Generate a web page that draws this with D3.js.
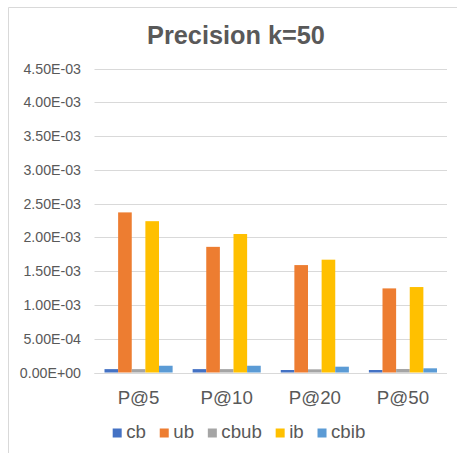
<!DOCTYPE html>
<html>
<head>
<meta charset="utf-8">
<script src="https://cdn.jsdelivr.net/npm/d3@7"></script>
<style>
  html, body { margin: 0; padding: 0; background: #fff; }
  svg { display: block; font-family: "Liberation Sans", Arial, sans-serif; }
</style>
</head>
<body>
<svg id="chart" width="457" height="453"></svg>
<script>
const categories = ["P@5", "P@10", "P@20", "P@50"];
const seriesNames = ["cb", "ub", "cbub", "ib", "cbib"];
const seriesColors = ["#4472C4", "#ED7D31", "#A5A5A5", "#FFC000", "#5B9BD5"];
const cbValues   = [0.000050, 0.000050, 0.000037, 0.000037];
const ubValues   = [0.002370, 0.001860, 0.001590, 0.001245];
const cbubValues = [0.000050, 0.000050, 0.000047, 0.000052];
const ibValues   = [0.002240, 0.002050, 0.001670, 0.001265];
const cbibValues = [0.000100, 0.000100, 0.000086, 0.000062];
const yTicks = [0, 0.0005, 0.001, 0.0015, 0.002, 0.0025, 0.003, 0.0035, 0.004, 0.0045];
const yTickLabels = ["0.00E+00", "5.00E-04", "1.00E-03", "1.50E-03", "2.00E-03", "2.50E-03", "3.00E-03", "3.50E-03", "4.00E-03", "4.50E-03"];
const titleText = "Precision k=50";

const seriesValues = [cbValues, ubValues, cbubValues, ibValues, cbibValues];
const table = categories.map((c, i) => ({
  category: c,
  values: seriesNames.map((s, j) => ({ series: s, value: seriesValues[j][i], color: seriesColors[j] }))
}));

const svg = d3.select("#chart");
const plot = { left: 94.5, right: 447, top: 68.5, bottom: 372.5 };

// Frame (chart area border, cropped at right and bottom)
svg.append("path")
  .attr("d", `M8.5,470 L8.5,7.5 L470,7.5`)
  .attr("fill", "none").attr("stroke", "#d9d9d9").attr("stroke-width", 1);

const x0 = d3.scaleBand().domain(categories).range([plot.left, plot.right]).paddingInner(0.227).paddingOuter(0.1135);
const x1 = d3.scaleBand().domain(seriesNames).range([0, x0.bandwidth()]).padding(0);
const y = d3.scaleLinear().domain([0, 0.0045]).range([plot.bottom, plot.top]);

// Gridlines
svg.append("g").selectAll("line").data(yTicks).join("line")
  .attr("x1", plot.left).attr("x2", plot.right)
  .attr("y1", d => Math.round(y(d)) + 0.5).attr("y2", d => Math.round(y(d)) + 0.5)
  .attr("stroke", "#d9d9d9").attr("stroke-width", 1);

// Y axis labels
const yAxis = d3.axisLeft(y).tickValues(yTicks).tickFormat((d, i) => yTickLabels[i]).tickSize(0).tickPadding(0);
const yg = svg.append("g").attr("transform", `translate(81,0)`).call(yAxis);
yg.select(".domain").remove();
yg.selectAll("text").attr("fill", "#595959").style("font-size", "14.2px").attr("font-family", null);

// Bars
const groups = svg.append("g").selectAll("g").data(table).join("g")
  .attr("transform", d => `translate(${x0(d.category)},0)`);
groups.selectAll("rect").data(d => d.values).join("rect")
  .attr("x", d => x1(d.series))
  .attr("width", x1.bandwidth())
  .attr("y", d => y(d.value))
  .attr("height", d => y(0) - y(d.value))
  .attr("fill", d => d.color);

// X axis baseline
svg.append("line")
  .attr("x1", plot.left).attr("x2", plot.right)
  .attr("y1", Math.round(y(0)) + 0.5).attr("y2", Math.round(y(0)) + 0.5)
  .attr("stroke", "#d9d9d9").attr("stroke-width", 1);

// X axis labels
const xAxis = d3.axisBottom(x0).tickSize(0).tickPadding(0);
const xg = svg.append("g").attr("transform", `translate(0,403.5)`).call(xAxis);
xg.select(".domain").remove();
xg.selectAll("text").attr("fill", "#595959").style("font-size", "18.7px").attr("dy", 0).attr("font-family", null);

// Title
svg.append("text").attr("x", 236).attr("y", 43.5).attr("text-anchor", "middle")
  .attr("fill", "#595959").style("font-size", "25.3px").style("font-weight", "bold")
  .text(titleText);

// Legend
const legend = svg.append("g");
const items = legend.selectAll("g").data(seriesNames).join("g");
items.append("rect").attr("width", 9).attr("height", 9).attr("y", 428.5)
  .attr("fill", (d, i) => seriesColors[i]);
items.append("text").attr("x", 13.5).attr("y", 437.8)
  .attr("fill", "#595959").style("font-size", "18.7px").text(d => d);
let cx = 0;
const offsets = [];
items.each(function() {
  offsets.push(cx);
  const w = d3.select(this).select("text").node().getComputedTextLength();
  cx += 13.5 + w + 13.8;
});
const totalW = cx - 13.8;
const startX = 239 - totalW / 2;
items.attr("transform", (d, i) => `translate(${startX + offsets[i]},0)`);
</script>
</body>
</html>
